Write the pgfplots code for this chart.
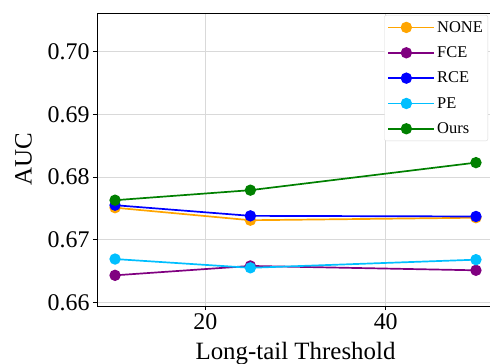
\documentclass[border=0pt]{standalone}
\usepackage{fontspec}
\setmainfont{Liberation Serif}
\usepackage{pgfplots}
\pgfplotsset{compat=1.18}
\definecolor{cNone}{HTML}{FFA500}
\definecolor{cFCE}{HTML}{800080}
\definecolor{cRCE}{HTML}{0000FF}
\definecolor{cPE}{HTML}{00BFFF}
\definecolor{cOurs}{HTML}{008000}
\begin{document}
\begin{tikzpicture}
\begin{axis}[
  scale only axis, width=397bp, height=293bp,
  xmin=8, xmax=52, ymin=0.6594, ymax=0.7062,
  xtick={20,40}, ytick={0.66,0.67,0.68,0.69,0.70},
  yticklabel style={/pgf/number format/fixed, /pgf/number format/fixed zerofill, /pgf/number format/precision=2},
  /pgf/number format/assume math mode=true,
  tick label style={font=\fontsize{24}{26}\selectfont},
  xlabel={Long-tail Threshold}, ylabel={AUC},
  every axis x label/.style={at={(0.5,-0.181)}, anchor=base, font=\fontsize{25}{27}\selectfont},
  every axis y label/.style={at={(-0.185,0.5)}, rotate=90, anchor=center, font=\fontsize{25}{27}\selectfont},
  grid=major, grid style={gray!30, line width=0.8pt},
  tick align=outside, tick pos=left, major tick length=4bp,
  axis line style={line width=0.8pt},
  every tick/.style={black, line width=0.8pt},
  legend style={at={(rel axis cs:0.985,0.993)}, anchor=north east,
    font=\fontsize{16.5}{19}\selectfont, draw=gray!30, rounded corners=2pt,
    row sep=9bp, inner xsep=3bp, inner ysep=4bp},
  legend cell align=left,
  legend image code/.code={\path (0bp,0bp) -- (46bp,0bp); \draw[mark repeat=2,mark phase=2] plot coordinates {(0bp,0bp) (18bp,0bp) (36bp,0bp)};},
  every axis plot/.append style={line width=1.7bp, mark=*, mark size=4.8bp},
]
\addplot[color=cNone, mark options={fill=cNone}] coordinates {(10,0.6751) (25,0.6731) (50,0.6735)};
\addlegendentry{NONE}
\addplot[color=cFCE, mark options={fill=cFCE}] coordinates {(10,0.6643) (25,0.6658) (50,0.6651)};
\addlegendentry{FCE}
\addplot[color=cRCE, mark options={fill=cRCE}] coordinates {(10,0.6755) (25,0.6738) (50,0.6737)};
\addlegendentry{RCE}
\addplot[color=cPE, mark options={fill=cPE}] coordinates {(10,0.6669) (25,0.6655) (50,0.6668)};
\addlegendentry{PE}
\addplot[color=cOurs, mark options={fill=cOurs}] coordinates {(10,0.6763) (25,0.6779) (50,0.6823)};
\addlegendentry{Ours}
\coordinate (SW) at (rel axis cs:0,0);
\coordinate (NW) at (rel axis cs:0,1);
\end{axis}
\pgfresetboundingbox
\useasboundingbox ([xshift=-97bp,yshift=-58bp]SW) rectangle ([xshift=393bp,yshift=13bp]NW);
\end{tikzpicture}
\end{document}
